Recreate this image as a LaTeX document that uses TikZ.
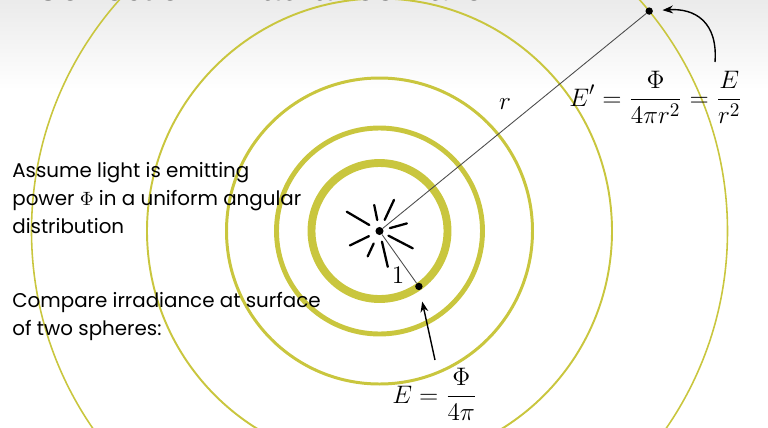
\documentclass[tikz,border=0pt]{standalone}
\usepackage{amsmath}
\usepackage{fontspec}
\setmainfont{Poppins}
\newfontfamily\titlefont{Liberation Sans}
\usetikzlibrary{arrows.meta}
\definecolor{ringcol}{RGB}{201,198,62}

\begin{document}
\begin{tikzpicture}[x=0.02cm, y=-0.02cm,
    dot/.style={circle, fill=black, inner sep=0pt, minimum size=4.2pt},
    ray/.style={line width=1.3pt, line cap=round},
    spoke/.style={gray!60!black, line width=0.5pt},
    pointer/.style={-{Stealth[length=6pt, width=4.5pt]}, line width=0.8pt},
    eq/.style={font=\fontsize{15.2}{18}\selectfont, inner sep=0pt},
    body/.style={font=\fontsize{11.3}{15.9}\selectfont, align=left, anchor=north west, inner sep=0pt}]
    \useasboundingbox (0,0) rectangle (768,427);
    \clip (0,0) rectangle (768,427);
    \shade[top color=black!8, bottom color=white] (0,0) rectangle (768,90);
    \node[anchor=base west, inner sep=0pt, font=\titlefont\fontsize{20.5}{24}\selectfont] (title) at (34,0)
      {Correction: \textbf{Irradiance} Falloff};

    \node[dot, minimum size=4.6pt] (src) at (379.5,231) {};
    \foreach \r/\w in {68/4.5pt, 103/2.8pt, 153/1.7pt, 232.5/1.1pt, 348/0.9pt}
      \draw[ringcol, line width=\w] (src.center) circle (\r);
    \foreach \a/\i/\o in {149.5/11.8/38, 101.5/11.2/26.6, 65/12.3/34.3, 15.5/10.8/28.4,
                          -27.5/10.1/37.5, -77/10.9/36.8, -115/13.8/28, -154/11.7/32.9}
      \draw[ray] ([shift={(-\a:\i)}]src.center) -- ([shift={(-\a:\o)}]src.center);

    \node[dot] (near) at ([shift={(54.6:68)}]src.center) {};
    \node[dot] (far) at ([shift={(-39.2:348)}]src.center) {};
    \draw[spoke] (src) -- (near);
    \draw[spoke] (src) -- (far);
    \node[eq] (one) at (398,275) {$1$};
    \node[eq] (rlabel) at (505,104) {$r$};

    \node[eq, anchor=base west] (eqfar) at (569,106)
      {$\displaystyle E' = \frac{\Phi}{4\pi r^2} = \frac{E}{r^2}$};
    \node[eq, anchor=base west] (eqnear) at (392,403)
      {$\displaystyle E = \frac{\Phi}{4\pi}$};
    \coordinate (farfoot) at (715,62);
    \coordinate (nearfoot) at (435,360);
    \draw[pointer, shorten >=5.3pt] (farfoot) .. controls (718,22) and (695,8) .. (far);
    \draw[pointer, shorten >=6.5pt] (nearfoot) -- (near);

    \node[body] (assume) at (12,162)
      {Assume light is emitting\\power $\Phi$ in a uniform angular\\distribution};
    \node[body] (compare) at (12,292)
      {Compare irradiance at surface\\of two spheres:};
  \end{tikzpicture}
\end{document}
